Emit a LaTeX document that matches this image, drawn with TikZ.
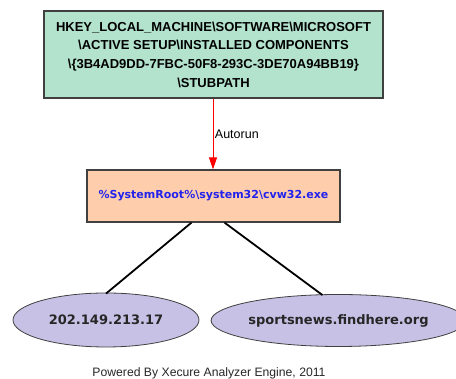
\documentclass[tikz,border=0pt]{standalone}
\usepackage{fontspec}
\setmainfont{Liberation Sans}
\newfontfamily\dvs{DejaVu Sans}
\usetikzlibrary{shapes.geometric,arrows.meta}
\definecolor{keyfill}{HTML}{B3E2CD}
\definecolor{filefill}{HTML}{FDCDAC}
\definecolor{netfill}{HTML}{C7C2E5}
\definecolor{bord}{HTML}{404040}
\definecolor{fileblue}{HTML}{2222EE}
\tikzset{
  x=1pt,y=1pt,
  keybox/.style={draw=bord,line width=1.2pt,fill=keyfill,minimum width=339pt,minimum height=87pt,inner sep=0pt,align=center,font=\fontsize{13}{18.7}\selectfont\bfseries},
  filebox/.style={draw=bord,line width=1.2pt,fill=filefill,minimum width=253pt,minimum height=52pt,inner sep=0pt,text=fileblue,font=\dvs\fontsize{11}{13}\selectfont\bfseries},
  netnode/.style={draw=bord,line width=0.8pt,fill=netfill,ellipse,inner sep=0pt,font=\dvs\fontsize{13}{15}\selectfont\bfseries,text=black!85},
  autolink/.style={draw=red,line width=0.9pt,-{Triangle[length=12pt,width=8pt]}},
  netlink/.style={draw=black,line width=1.8pt},
}
\begin{document}
\begin{tikzpicture}
\useasboundingbox (0,0) rectangle (456,379);
\node[keybox] (key) at (213.5,324.5) {HKEY\_LOCAL\_MACHINE\textbackslash SOFTWARE\textbackslash MICROSOFT\\\textbackslash ACTIVE SETUP\textbackslash INSTALLED COMPONENTS\\\textbackslash\{3B4AD9DD-7FBC-50F8-293C-3DE70A94BB19\}\\\textbackslash STUBPATH};
\node[filebox] (file) at (213.5,183) {\%SystemRoot\%\textbackslash system32\textbackslash cvw32.exe};
\node[netnode,minimum width=186pt,minimum height=54pt] (ip) at (106,59) {202.149.213.17};
\node[netnode,minimum width=234pt,minimum height=52pt] (dom) at (338.5,58.5) {sportsnews.findhere.org};
\draw[autolink] (key.south -| 213,0) -- node[right,pos=0.5,inner sep=1.5pt,font=\fontsize{12.5}{14}\selectfont,text=black] {Autorun} (file.north -| 213,0);
\draw[netlink] ([xshift=-22pt]file.south) -- ([yshift=-1pt]ip.north);
\draw[netlink] ([xshift=11pt]file.south) -- ([xshift=-16pt,yshift=-1pt]dom.north);
\node[font=\fontsize{12.2}{14}\selectfont,text=black!85] (foot) at (209,6) {Powered By Xecure Analyzer Engine, 2011};
\end{tikzpicture}
\end{document}
